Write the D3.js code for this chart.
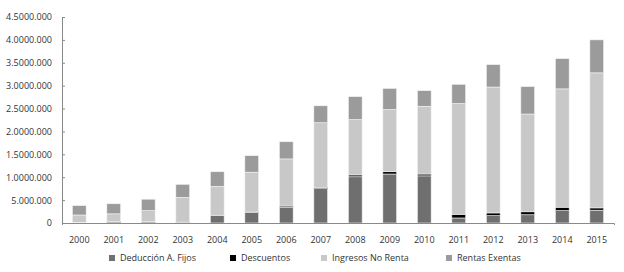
<!DOCTYPE html>
<html>
<head>
<meta charset="utf-8">
<script src="https://cdn.jsdelivr.net/npm/d3@7"></script>
<style>
  body { margin: 0; background: #fff; }
  svg text { font-family: "Open Sans", "DejaVu Sans", sans-serif; fill: #333; }
</style>
</head>
<body>
<svg id="chart"></svg>
<script>
// years on the x axis
const years = ['2000', '2001', '2002', '2003', '2004', '2005', '2006', '2007',
  '2008', '2009', '2010', '2011', '2012', '2013', '2014', '2015'];

// series values, in millions
const deduccion = [0.005, 0.01, 0.01, 0.01, 0.16, 0.23, 0.34, 0.75, 1.01, 1.07, 1.03, 0.11, 0.16, 0.18, 0.27, 0.28];
const descuentos = [0.01, 0.02, 0.02, 0.01, 0.01, 0.01, 0.03, 0.03, 0.04, 0.05, 0.04, 0.08, 0.06, 0.065, 0.075, 0.05];
const ingresos = [0.16, 0.17, 0.24, 0.54, 0.63, 0.87, 1.03, 1.41, 1.21, 1.36, 1.48, 2.42, 2.75, 2.135, 2.585, 2.95];
const rentas = [0.205, 0.22, 0.25, 0.285, 0.32, 0.36, 0.375, 0.37, 0.50, 0.46, 0.34, 0.42, 0.49, 0.60, 0.66, 0.72];

const seriesNames = ['Deducción A. Fijos', 'Descuentos', 'Ingresos No Renta', 'Rentas Exentas'];
const seriesKeys = ['deduccion', 'descuentos', 'ingresos', 'rentas'];

// y tick values and the labels as printed in the source
const yTicks = [0, 0.5, 1, 1.5, 2, 2.5, 3, 3.5, 4, 4.5];
const yTickLabels = ['0', '5.000.000', '1.0000.000', '1.5000.000', '2.0000.000', '2.5000.000',
  '3.0000.000', '3.5000.000', '4.0000.000', '4.5000.000'];

const config = {
  width: 624,
  height: 272,
  margin: { top: 17, right: 10, bottom: 49, left: 62 },
  colors: ['#6f6f6f', '#000000', '#c8c8c8', '#9b9b9b'],
  legendX: [109, 230, 321, 446],
  legendY: 261,
};

const svg = d3.select('#chart')
  .attr('width', config.width)
  .attr('height', config.height);

const innerW = config.width - config.margin.left - config.margin.right;
const innerH = config.height - config.margin.top - config.margin.bottom;

const chart = svg.append('g')
  .attr('transform', `translate(${config.margin.left},${config.margin.top})`);

// build rows for the stack
const rows = years.map((y, i) => ({
  year: y,
  deduccion: deduccion[i],
  descuentos: descuentos[i],
  ingresos: ingresos[i],
  rentas: rentas[i],
}));

const stacked = d3.stack().keys(seriesKeys)(rows);

const xScale = d3.scaleBand()
  .domain(years)
  .range([0, innerW])
  .paddingInner(0.6)
  .paddingOuter(0.3);

const yScale = d3.scaleLinear()
  .domain([0, 4.5])
  .range([innerH, 0]);

const colorScale = d3.scaleOrdinal()
  .domain(seriesKeys)
  .range(config.colors);

// bars
chart.selectAll('.layer')
  .data(stacked)
  .join('g')
  .attr('class', 'layer')
  .attr('fill', (d) => colorScale(d.key))
  .selectAll('rect')
  .data((d) => d)
  .join('rect')
  .attr('x', (d) => xScale(d.data.year))
  .attr('width', xScale.bandwidth())
  .attr('y', (d) => yScale(d[1]))
  .attr('height', (d) => Math.max(0, yScale(d[0]) - yScale(d[1])))
  .attr('stroke', '#f4f4f4')
  .attr('stroke-width', 0.6);

// y axis
const yAxis = d3.axisLeft(yScale)
  .tickValues(yTicks)
  .tickFormat((d, i) => yTickLabels[i])
  .tickSize(-3)
  .tickSizeOuter(0)
  .tickPadding(10);

const yAxisG = chart.append('g')
  .attr('class', 'axis y-axis')
  .call(yAxis);
yAxisG.selectAll('line, path').attr('stroke', '#8a8a8a');
yAxisG.selectAll('text').attr('font-size', 9).style('fill', '#333');

// x axis
const xAxis = d3.axisBottom(xScale)
  .tickSize(0)
  .tickSizeOuter(2)
  .tickPadding(14);

const xAxisG = chart.append('g')
  .attr('class', 'axis x-axis')
  .attr('transform', `translate(0,${innerH})`)
  .call(xAxis);
xAxisG.selectAll('path').attr('stroke', '#8a8a8a');
xAxisG.selectAll('text').attr('font-size', 9).style('fill', '#333');

// legend
const legend = svg.append('g').attr('class', 'legend');
const items = legend.selectAll('g')
  .data(seriesKeys)
  .join('g')
  .attr('transform', (d, i) => `translate(${config.legendX[i]},${config.legendY})`);

items.append('rect')
  .attr('x', 0)
  .attr('y', -6)
  .attr('width', 6)
  .attr('height', 6)
  .attr('fill', (d) => colorScale(d));

items.append('text')
  .attr('x', 11)
  .attr('y', 0)
  .attr('font-size', 9)
  .style('fill', '#333')
  .text((d, i) => seriesNames[i]);
</script>
</body>
</html>
